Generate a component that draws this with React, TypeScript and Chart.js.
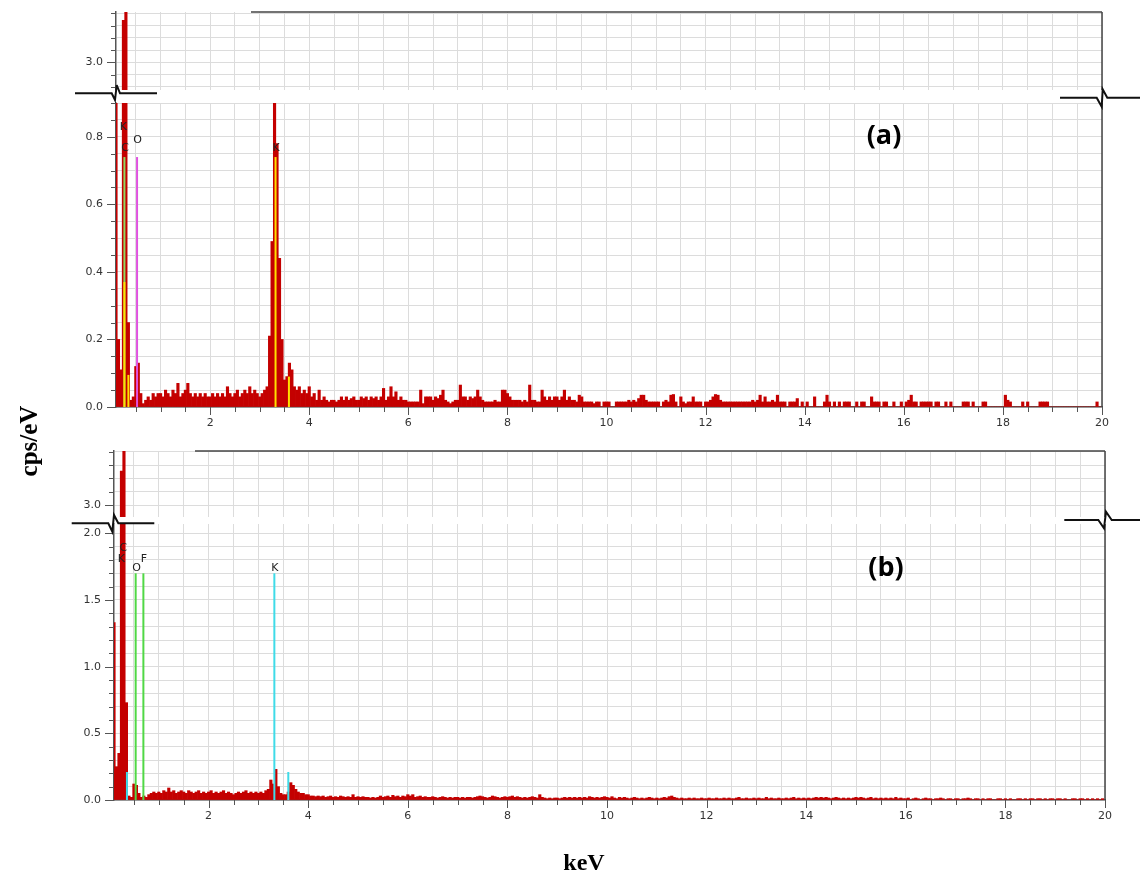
import React, { useEffect, useRef } from "react";
import { Chart, registerables } from "chart.js";
Chart.register(...registerables);

// ---------- data ----------
// energy channels: first channel centre (keV) and channel width (keV)
const E_START = 0.1;
const E_STEP = 0.05;

// Spectrum (a), cps/eV, one row per keV (first row starts at 0.10 keV)
const countsA: number[] = [
  1.5, 0.2, 0.11, 3.86, 4.1, 0.25, 0.02, 0.03, 0.12, 0.13, 0.04, 0.01, 0.02, 0.03, 0.02, 0.04, 0.03, 0.04,
  0.04, 0.03, 0.05, 0.04, 0.03, 0.05, 0.04, 0.07, 0.03, 0.04, 0.05, 0.07, 0.04, 0.03, 0.04, 0.03, 0.04, 0.03, 0.04, 0.03,
  0.03, 0.04, 0.03, 0.04, 0.03, 0.04, 0.03, 0.06, 0.04, 0.03, 0.04, 0.05, 0.03, 0.04, 0.05, 0.04, 0.06, 0.04, 0.05, 0.04,
  0.03, 0.04, 0.05, 0.06, 0.21, 0.49, 1.2, 0.78, 0.44, 0.2, 0.08, 0.09, 0.13, 0.11, 0.06, 0.05, 0.06, 0.04, 0.05, 0.04,
  0.06, 0.03, 0.04, 0.02, 0.05, 0.02, 0.03, 0.02, 0.015, 0.02, 0.02, 0.015, 0.02, 0.03, 0.02, 0.03, 0.02, 0.025, 0.03, 0.02,
  0.02, 0.03, 0.025, 0.03, 0.02, 0.03, 0.025, 0.03, 0.02, 0.03, 0.055, 0.02, 0.03, 0.06, 0.03, 0.045, 0.02, 0.03, 0.02, 0.02,
  0.015, 0.015, 0.015, 0.015, 0.015, 0.05, 0.01, 0.03, 0.03, 0.03, 0.02, 0.03, 0.025, 0.035, 0.05, 0.02, 0.015, 0.01, 0.015, 0.02,
  0.02, 0.065, 0.03, 0.03, 0.02, 0.03, 0.025, 0.03, 0.05, 0.03, 0.02, 0.015, 0.015, 0.015, 0.015, 0.02, 0.015, 0.015, 0.05, 0.05,
  0.04, 0.03, 0.02, 0.02, 0.02, 0.02, 0.015, 0.02, 0.015, 0.065, 0.02, 0.02, 0.015, 0.015, 0.05, 0.03, 0.02, 0.03, 0.02, 0.03,
  0.03, 0.02, 0.03, 0.05, 0.02, 0.03, 0.02, 0.02, 0.015, 0.035, 0.03, 0.015, 0.015, 0.015, 0.015, 0.01, 0.015, 0.015, 0, 0.015,
  0.015, 0.015, 0, 0, 0.015, 0.015, 0.015, 0.015, 0.015, 0.02, 0.015, 0.02, 0.015, 0.025, 0.035, 0.035, 0.02, 0.015, 0.015, 0.015,
  0.015, 0.015, 0, 0.015, 0.02, 0.015, 0.035, 0.037, 0.015, 0, 0.03, 0.015, 0.01, 0.015, 0.015, 0.03, 0.015, 0.015, 0.015, 0,
  0.015, 0.015, 0.02, 0.03, 0.037, 0.035, 0.02, 0.015, 0.015, 0.015, 0.015, 0.015, 0.015, 0.015, 0.015, 0.015, 0.015, 0.015, 0.015, 0.02,
  0.015, 0.02, 0.035, 0.015, 0.03, 0.015, 0.015, 0.02, 0.015, 0.035, 0.015, 0.015, 0.015, 0, 0.015, 0.015, 0.015, 0.025, 0, 0.015,
  0, 0.015, 0, 0, 0.03, 0, 0, 0, 0.015, 0.035, 0.015, 0, 0.015, 0, 0.015, 0, 0.015, 0.015, 0.015, 0,
  0, 0.015, 0, 0.015, 0.015, 0, 0, 0.03, 0.015, 0.015, 0.015, 0, 0.015, 0.015, 0, 0, 0.015, 0, 0, 0.015,
  0, 0.015, 0.02, 0.035, 0.015, 0.015, 0, 0.015, 0.015, 0.015, 0.015, 0.015, 0, 0.015, 0.015, 0, 0, 0.015, 0, 0.015,
  0, 0, 0, 0, 0.015, 0.015, 0.015, 0, 0.015, 0, 0, 0, 0.015, 0.015, 0, 0, 0, 0, 0, 0,
  0, 0.035, 0.02, 0.015, 0, 0, 0, 0, 0.015, 0, 0.015, 0, 0, 0, 0, 0.015, 0.015, 0.015, 0.015, 0,
  0, 0, 0, 0, 0, 0, 0, 0, 0, 0, 0, 0, 0, 0, 0, 0, 0, 0, 0.015, 0,
];

// Spectrum (b), cps/eV
const countsB: number[] = [
  1.33, 0.25, 0.35, 3.64, 4.1, 0.73, 0.03, 0.02, 0.12, 0.11, 0.05, 0.02, 0.03, 0.02, 0.04, 0.05, 0.06, 0.05,
  0.06, 0.05, 0.07, 0.06, 0.09, 0.06, 0.07, 0.05, 0.06, 0.07, 0.06, 0.05, 0.07, 0.06, 0.05, 0.06, 0.07, 0.05, 0.06, 0.05,
  0.06, 0.07, 0.05, 0.06, 0.05, 0.06, 0.07, 0.05, 0.06, 0.05, 0.04, 0.05, 0.06, 0.05, 0.06, 0.07, 0.05, 0.06, 0.05, 0.06,
  0.05, 0.06, 0.05, 0.07, 0.08, 0.15, 0.12, 0.23, 0.1, 0.05, 0.04, 0.04, 0.06, 0.13, 0.11, 0.08, 0.06, 0.05, 0.05, 0.04,
  0.04, 0.03, 0.03, 0.025, 0.03, 0.025, 0.03, 0.02, 0.025, 0.03, 0.02, 0.025, 0.02, 0.03, 0.025, 0.02, 0.025, 0.02, 0.04, 0.02,
  0.025, 0.02, 0.025, 0.02, 0.02, 0.015, 0.02, 0.015, 0.02, 0.03, 0.02, 0.025, 0.03, 0.02, 0.035, 0.025, 0.03, 0.02, 0.03, 0.025,
  0.04, 0.03, 0.04, 0.02, 0.025, 0.03, 0.02, 0.025, 0.02, 0.02, 0.025, 0.02, 0.015, 0.02, 0.025, 0.02, 0.015, 0.02, 0.015, 0.02,
  0.02, 0.015, 0.02, 0.015, 0.02, 0.02, 0.015, 0.02, 0.025, 0.03, 0.025, 0.02, 0.015, 0.02, 0.03, 0.025, 0.02, 0.015, 0.02, 0.025,
  0.02, 0.025, 0.03, 0.02, 0.025, 0.02, 0.015, 0.02, 0.015, 0.02, 0.025, 0.02, 0.015, 0.04, 0.02, 0.015, 0.01, 0.015, 0.01, 0.015,
  0.015, 0.01, 0.015, 0.02, 0.015, 0.02, 0.015, 0.02, 0.015, 0.02, 0.015, 0.02, 0.015, 0.025, 0.02, 0.015, 0.02, 0.015, 0.02, 0.025,
  0.02, 0.015, 0.025, 0.015, 0.01, 0.02, 0.015, 0.02, 0.015, 0.01, 0.015, 0.02, 0.015, 0.01, 0.015, 0.01, 0.015, 0.02, 0.015, 0.01,
  0.015, 0.01, 0.015, 0.02, 0.015, 0.025, 0.03, 0.02, 0.015, 0.01, 0.015, 0.01, 0.01, 0.015, 0.01, 0.015, 0.01, 0.01, 0.015, 0.01,
  0.01, 0.015, 0.01, 0.01, 0.015, 0.01, 0.01, 0.015, 0.01, 0.015, 0.01, 0.01, 0.015, 0.02, 0.01, 0.01, 0.015, 0.01, 0.01, 0.015,
  0.01, 0.015, 0.01, 0.01, 0.02, 0.01, 0.015, 0.01, 0.01, 0.015, 0.01, 0.01, 0.015, 0.01, 0.015, 0.02, 0.01, 0.015, 0.01, 0.015,
  0.01, 0.015, 0.01, 0.015, 0.02, 0.015, 0.02, 0.015, 0.02, 0.015, 0.01, 0.015, 0.02, 0.015, 0.01, 0.015, 0.01, 0.015, 0.01, 0.015,
  0.02, 0.015, 0.02, 0.015, 0.01, 0.015, 0.02, 0.01, 0.015, 0.01, 0.015, 0.01, 0.015, 0.01, 0.015, 0.01, 0.02, 0.01, 0.015, 0.01,
  0.01, 0.015, 0, 0.01, 0.015, 0.01, 0, 0.01, 0.015, 0.01, 0.01, 0, 0.01, 0.01, 0.015, 0.01, 0, 0.01, 0.01, 0,
  0.01, 0.01, 0, 0.01, 0.01, 0.015, 0.01, 0, 0.01, 0.01, 0, 0.01, 0, 0.01, 0.01, 0, 0, 0.01, 0.01, 0,
  0.01, 0, 0.01, 0, 0, 0.01, 0.01, 0, 0.01, 0, 0.01, 0.01, 0, 0.01, 0.01, 0, 0.01, 0, 0.01, 0.01,
  0, 0.01, 0.01, 0, 0.01, 0, 0, 0.01, 0.01, 0, 0.01, 0.01, 0, 0.01, 0, 0.01, 0, 0.01, 0, 0.01,
];

// element marker lines: energy (keV), height (cps/eV), colour
const markerEnergiesA = [0.27, 0.27, 0.35, 0.525, 3.32, 3.59];
const markerHeightsA = [0.37, 0.74, 0.095, 0.74, 0.74, 0.09];
const markerColorsA = ["#ffe000", "#8fd860", "#ffe000", "#e052e0", "#ffe000", "#ffe000"];

const markerEnergiesB = [0.36, 0.535, 0.69, 3.32, 3.6];
const markerHeightsB = [0.21, 1.7, 1.7, 1.7, 0.21];
const markerColorsB = ["#3fdbe8", "#50d845", "#50d845", "#3fdbe8", "#3fdbe8"];

// element labels
const labelTextA = ["K", "C", "O", "K"];
const labelEnergyA = [0.25, 0.285, 0.535, 3.33];
const labelValueA = [0.83, 0.765, 0.79, 0.765];

const labelTextB = ["C", "K", "O", "F", "K"];
const labelEnergyB = [0.29, 0.25, 0.555, 0.7, 3.33];
const labelValueB = [1.89, 1.81, 1.74, 1.81, 1.74];

// tick labels
const xTickLabels = [2, 4, 6, 8, 10, 12, 14, 16, 18, 20];
const yTickLabelsUpper = [3.0];
const yTickLabelsA = [0, 0.2, 0.4, 0.6, 0.8];
const yTickLabelsB = [0, 0.5, 1.0, 1.5, 2.0];

// ---------- styling / layout ----------
const RED = "#c40000";
const GRID = "#dcdcdc";
const AXIS = "#555555";
const TICKFONT = { family: "'DejaVu Sans', Verdana, sans-serif", size: 11 };
const YW = 70;
const PR = 22;
const PT = 4;

type PanelSpec = {
  counts: number[];
  left: number; right: number; top: number; bottom: number;
  yMin: number; yMax: number; yStep: number; yLabels: number[];
  showX: boolean;
  mE?: number[]; mH?: number[]; mC?: number[] | string[];
  lT?: string[]; lE?: number[]; lV?: number[];
};

const near = (v: number, list: number[]) => list.some((l) => Math.abs(l - v) < 1e-6);

function buildConfig(p: PanelSpec): any {
  const xh = p.showX ? 30 : 0;
  const bars = p.counts.map((y, i) => ({ x: +(E_START + i * E_STEP).toFixed(2), y }));
  const markers = (p.mE || []).map((e, i) => ({
    type: "line",
    data: [{ x: e, y: 0 }, { x: e, y: (p.mH as number[])[i] }],
    borderColor: (p.mC as string[])[i],
    borderWidth: 2,
    pointRadius: 0,
    fill: false,
    order: i === 1 && p.mE!.length === 6 ? 1 : 0,
  }));
  const deco = {
    id: "deco",
    afterDatasetsDraw(chart: any) {
      const ctx = chart.ctx;
      const xs = chart.scales.x;
      const ys = chart.scales.y;
      if (p.lT) {
        ctx.save();
        ctx.font = "11px 'DejaVu Sans', sans-serif";
        ctx.fillStyle = "#222";
        ctx.textAlign = "center";
        ctx.textBaseline = "middle";
        p.lT.forEach((t, i) => {
          ctx.fillText(t, xs.getPixelForValue(p.lE![i]), ys.getPixelForValue(p.lV![i]));
        });
        ctx.restore();
      }
    },
    afterDraw(chart: any) {
      const ctx = chart.ctx;
      const a = chart.chartArea;
      const xs = chart.scales.x;
      const ys = chart.scales.y;
      ctx.save();
      ctx.strokeStyle = AXIS;
      ctx.lineWidth = 1;
      ys.ticks.forEach((t: any) => {
        const py = Math.round(ys.getPixelForValue(t.value)) + 0.5;
        const len = near(t.value, p.yLabels) ? 9 : 5;
        ctx.beginPath();
        ctx.moveTo(a.left - len, py);
        ctx.lineTo(a.left, py);
        ctx.stroke();
      });
      if (p.showX) {
        xs.ticks.forEach((t: any) => {
          const px = Math.round(xs.getPixelForValue(t.value)) + 0.5;
          const len = near(t.value, xTickLabels) ? 8 : 5;
          ctx.beginPath();
          ctx.moveTo(px, a.bottom);
          ctx.lineTo(px, a.bottom + len);
          ctx.stroke();
        });
      }
      ctx.strokeStyle = "#444";
      ctx.lineWidth = 1.5;
      ctx.beginPath();
      ctx.moveTo(a.right, a.top);
      ctx.lineTo(a.right, a.bottom);
      ctx.stroke();
      ctx.restore();
    },
  };
  return {
    type: "bar",
    data: {
      datasets: [
        ...markers,
        {
          type: "bar",
          data: bars,
          backgroundColor: RED,
          borderWidth: 0,
          barPercentage: 1,
          categoryPercentage: 1,
          order: 10,
        },
      ],
    },
    options: {
      responsive: false,
      maintainAspectRatio: false,
      animation: false,
      devicePixelRatio: 1,
      layout: { padding: { top: PT, right: PR, left: 0, bottom: 0 } },
      plugins: { legend: { display: false }, tooltip: { enabled: false } },
      scales: {
        x: {
          type: "linear",
          min: 0.1,
          max: 20,
          offset: false,
          grid: { color: GRID, lineWidth: 1, offset: false, drawTicks: false },
          border: { display: p.showX, color: AXIS, width: 1.5 },
          ticks: {
            display: p.showX,
            stepSize: 0.5,
            includeBounds: false,
            autoSkip: false,
            maxRotation: 0,
            minRotation: 0,
            padding: 10,
            color: "#333",
            font: TICKFONT,
            callback: (v: any) => (near(Number(v), xTickLabels) ? String(Math.round(Number(v))) : ""),
          },
          afterFit: (s: any) => {
            s.height = xh;
            s.paddingLeft = 0;
            s.paddingRight = 0;
          },
        },
        y: {
          type: "linear",
          min: p.yMin,
          max: p.yMax,
          beginAtZero: false,
          grid: { color: GRID, lineWidth: 1, drawTicks: false },
          border: { color: AXIS, width: 1.5 },
          ticks: {
            stepSize: p.yStep,
            includeBounds: false,
            autoSkip: false,
            padding: 13,
            color: "#333",
            font: TICKFONT,
            callback: (v: any) => (near(Number(v), p.yLabels) ? Number(v).toFixed(1) : ""),
          },
          afterFit: (s: any) => {
            s.width = YW;
            s.paddingTop = 0;
            s.paddingBottom = 0;
          },
        },
      },
    },
    plugins: [deco],
  };
}

function Panel({ spec }: { spec: PanelSpec }) {
  const ref = useRef<HTMLCanvasElement>(null);
  const xh = spec.showX ? 30 : 0;
  const w = spec.right - spec.left + YW + PR;
  const h = spec.bottom - spec.top + PT + xh;
  useEffect(() => {
    const chart = new Chart(ref.current as HTMLCanvasElement, buildConfig(spec));
    return () => chart.destroy();
  }, []);
  return (
    <canvas
      ref={ref}
      width={w}
      height={h}
      style={{ position: "absolute", left: spec.left - YW, top: spec.top - PT, width: w, height: h }}
    />
  );
}

const panels: PanelSpec[] = [
  { counts: countsA, left: 116, right: 1102, top: 12, bottom: 90, yMin: 2.435, yMax: 4.03, yStep: 0.25, yLabels: yTickLabelsUpper, showX: false },
  {
    counts: countsA, left: 116, right: 1102, top: 103, bottom: 407, yMin: 0, yMax: 0.9, yStep: 0.05, yLabels: yTickLabelsA, showX: true,
    mE: markerEnergiesA, mH: markerHeightsA, mC: markerColorsA, lT: labelTextA, lE: labelEnergyA, lV: labelValueA,
  },
  { counts: countsB, left: 114, right: 1105, top: 451, bottom: 517, yMin: 2.775, yMax: 4.015, yStep: 0.25, yLabels: yTickLabelsUpper, showX: false },
  {
    counts: countsB, left: 114, right: 1105, top: 524, bottom: 800, yMin: 0, yMax: 2.07, yStep: 0.1, yLabels: yTickLabelsB, showX: true,
    mE: markerEnergiesB, mH: markerHeightsB, mC: markerColorsB, lT: labelTextB, lE: labelEnergyB, lV: labelValueB,
  },
];

export default function App() {
  const serif = "'Liberation Serif', 'Times New Roman', serif";
  const brk = { fill: "none", stroke: "#111", strokeWidth: 2 } as any;
  return (
    <div style={{ position: "absolute", left: 0, top: 0, width: 1140, height: 875, background: "#fff", overflow: "hidden" }}>
      {panels.map((p, i) => (
        <Panel key={i} spec={p} />
      ))}
      <svg width={1140} height={875} style={{ position: "absolute", left: 0, top: 0, pointerEvents: "none" }}>
        <line x1={251} y1={12} x2={1102} y2={12} stroke="#444" strokeWidth={1.5} />
        <line x1={195} y1={451} x2={1105} y2={451} stroke="#444" strokeWidth={1.5} />
        <polyline {...brk} points="75,93.3 111.7,93.3 115,100 116.7,85 120,93.3 157,93.3" />
        <polyline {...brk} points="1060,97.7 1096.7,97.7 1101.7,106.7 1102.7,89.3 1107.3,97.7 1140,97.7" />
        <polyline {...brk} points="71.7,523.3 108.3,523.3 112.3,531.7 114,515 118.3,523.3 154.3,523.3" />
        <polyline {...brk} points="1064.3,520 1098.3,520 1104,528.3 1106,511.7 1111.7,520 1140,520" />
      </svg>
      <div
        style={{
          position: "absolute", left: 29, top: 441, transform: "translate(-50%, -50%) rotate(-90deg)",
          fontFamily: serif, fontWeight: 700, fontSize: 25, whiteSpace: "nowrap", color: "#000",
        }}
      >
        cps/eV
      </div>
      <div
        style={{
          position: "absolute", left: 584, top: 862, transform: "translate(-50%, -50%)",
          fontFamily: serif, fontWeight: 700, fontSize: 24, whiteSpace: "nowrap", color: "#000",
        }}
      >
        keV
      </div>
      <div
        style={{
          position: "absolute", left: 884, top: 133, transform: "translate(-50%, -50%)",
          fontFamily: "'Open Sans', sans-serif", fontWeight: 700, fontSize: 27, whiteSpace: "nowrap", color: "#000",
        }}
      >
        (a)
      </div>
      <div
        style={{
          position: "absolute", left: 886, top: 565, transform: "translate(-50%, -50%)",
          fontFamily: "'Open Sans', sans-serif", fontWeight: 700, fontSize: 27, whiteSpace: "nowrap", color: "#000",
        }}
      >
        (b)
      </div>
    </div>
  );
}
